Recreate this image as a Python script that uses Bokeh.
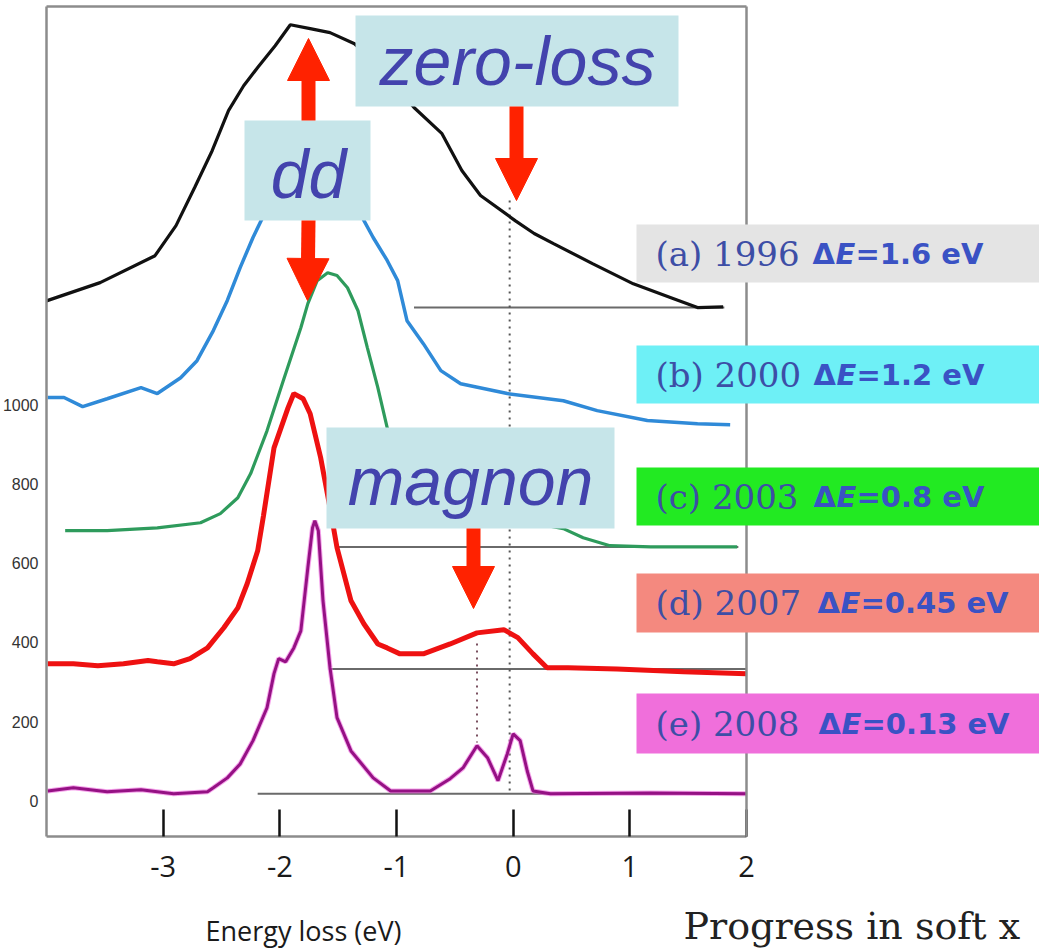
from bokeh.plotting import figure
from bokeh.models import Label, BoxAnnotation, Arrow, NormalHead, LinearAxis, FixedTicker, Range1d
from bokeh.embed import file_html
from bokeh.resources import INLINE

# ---------------- data (energy loss in eV, intensity in arb. units, offset spectra) -------------
a_x = [-4.0, -3.54, -3.07, -2.89, -2.73, -2.58, -2.44, -2.31, -2.19, -2.04, -1.91, -1.74, -1.57,
       -1.36, -1.18, -1.01, -0.85, -0.61, -0.44, -0.28, 0.02, 0.18, 0.35, 0.68, 1.03, 1.37, 1.58, 1.80]
a_y = [1262, 1308, 1376, 1452, 1548, 1641, 1742, 1805, 1851, 1906, 1959, 1949, 1939,
       1911, 1863, 1805, 1750, 1684, 1591, 1528, 1464, 1432, 1406, 1356, 1305, 1268, 1245, 1247]

b_x = [-3.99, -3.85, -3.69, -3.48, -3.19, -3.05, -2.85, -2.71, -2.57, -2.45, -2.34, -2.23, -2.14,
       -2.04, -1.91, -1.75, -1.57, -1.39, -1.28, -1.20, -1.08, -0.99, -0.91, -0.77, -0.62, -0.45,
       -0.05, 0.43, 0.72, 1.15, 1.58, 1.86]
b_y = [1018, 1018, 995, 1015, 1043, 1028, 1068, 1111, 1187, 1263, 1346, 1422, 1477,
       1566, 1629, 1654, 1629, 1553, 1465, 1422, 1364, 1313, 1212, 1154, 1086, 1053,
       1028, 1010, 985, 960, 952, 949]

c_x = [-3.84, -3.48, -3.05, -2.68, -2.51, -2.36, -2.25, -2.11, -1.97, -1.82, -1.76, -1.68, -1.59,
       -1.51, -1.42, -1.33, -1.25, -1.16, -1.08, -0.97, -0.79, -0.45, -0.02, 0.43, 0.60, 0.83, 1.18, 1.92]
c_y = [682, 682, 689, 702, 725, 765, 826, 934, 1061, 1194, 1255, 1313, 1333,
       1326, 1295, 1237, 1144, 1043, 942, 858, 795, 745, 712, 687, 664, 644, 641, 641]

d_x = [-3.99, -3.77, -3.56, -3.34, -3.13, -3.05, -2.91, -2.77, -2.62, -2.48, -2.36, -2.28, -2.19,
       -2.14, -2.05, -1.93, -1.88, -1.80, -1.74, -1.65, -1.57, -1.51, -1.39, -1.28, -1.16, -1.08,
       -0.97, -0.77, -0.54, -0.31, -0.08, 0.04, 0.17, 0.29, 0.47, 0.89, 1.46, 2.0]
d_y = [346, 346, 341, 346, 354, 351, 346, 359, 386, 437, 487, 548, 631,
       720, 891, 992, 1028, 1015, 977, 866, 740, 639, 505, 447, 396, 386,
       371, 371, 396, 424, 432, 412, 371, 336, 336, 333, 326, 321]

e_x = [-3.99, -3.77, -3.48, -3.19, -2.91, -2.62, -2.57, -2.45, -2.34, -2.23, -2.11, -2.05, -2.01,
       -1.95, -1.88, -1.82, -1.76, -1.72, -1.70, -1.67, -1.63, -1.57, -1.51, -1.39, -1.20, -1.05,
       -0.71, -0.54, -0.43, -0.31, -0.22, -0.13, -0.05, 0.00, 0.06, 0.12, 0.17, 0.32, 1.18, 2.0]
e_y = [25, 33, 23, 28, 18, 23, 33, 58, 93, 152, 235, 321, 359,
       351, 386, 429, 588, 689, 707, 682, 505, 336, 210, 126, 58, 25,
       25, 56, 83, 139, 109, 51, 119, 169, 152, 76, 25, 18, 20, 18]

# baselines (zero level of each offset spectrum) and their x extents
base_y = [1245, 641, 333, 18]
base_x0 = [-0.85, -1.52, -1.58, -2.19]
base_x1 = [1.81, 1.93, 2.0, 2.0]

x_ticks = [-3, -2, -1, 0, 1, 2]
y_ticks = [0, 200, 400, 600, 800, 1000]

labels_serif = ["(a) 1996", "(b) 2000", "(c) 2003", "(d) 2007", "(e) 2008"]
labels_de = ["=1.6 eV", "=1.2 eV", "=0.8 eV", "=0.45 eV", "=0.13 eV"]
box_colors = ["#e4e4e4", "#6ef0f6", "#22ea22", "#f4897f", "#f06fdb"]

# ---------------- geometry: the axes box sits inside a full-canvas frame ----------------
W, H = 1039, 949
FL, FR, FT, FB = 46, 746, 6, 836          # axes box in page pixels
XMIN, XMAX, YMIN, YMAX = -4.0, 2.0, -90.0, 2005.0
SX = (FR - FL) / (XMAX - XMIN)
SY = (FB - FT) / (YMAX - YMIN)


def dx(px):
    return XMIN + (px - FL) / SX


def dy(py):
    return YMIN + (FB - py) / SY


p = figure(width=W, height=H, title=None,
           x_range=Range1d(dx(0), dx(W)), y_range=Range1d(dy(H), dy(0)),
           output_backend="svg", toolbar_location=None,
           min_border_left=0, min_border_right=0, min_border_top=0, min_border_bottom=0)
p.grid.visible = False
p.outline_line_color = None
p.background_fill_color = "white"
p.border_fill_color = "white"

AX = "#8c8c8c"
xa = p.xaxis[0]
xa.fixed_location = YMIN
xa.bounds = (XMIN, XMAX)
xa.ticker = FixedTicker(ticks=x_ticks)
xa.major_label_overrides = {-3: "-3", -2: "-2", -1: "-1", 0: "0", 1: "1", 2: "2"}
xa.axis_line_color = AX
xa.axis_line_width = 2.5
xa.major_tick_in = 27
xa.major_tick_out = 0
xa.major_tick_line_color = "#111111"
xa.major_tick_line_width = 2.5
xa.minor_tick_line_color = None
xa.major_label_text_font = "Open Sans"
xa.major_label_text_font_size = "29px"
xa.major_label_text_color = "#1a1a1a"
xa.major_label_standoff = 19

ya = p.yaxis[0]
ya.fixed_location = XMIN
ya.bounds = (YMIN, YMAX)
ya.ticker = FixedTicker(ticks=y_ticks)
ya.axis_line_color = AX
ya.axis_line_width = 2.5
ya.major_tick_line_color = None
ya.minor_tick_line_color = None
ya.major_tick_in = 0
ya.major_tick_out = 0
ya.major_label_text_font = "Liberation Sans"
ya.major_label_text_font_size = "16px"
ya.major_label_text_color = "#333333"
ya.major_label_standoff = 8

for loc, fixed, bnds in (("above", YMAX, (XMIN, XMAX)), ("right", XMAX, (YMIN, YMAX))):
    ax = LinearAxis(ticker=FixedTicker(ticks=[]), axis_line_color=AX, axis_line_width=2.5,
                    major_tick_line_color=None, minor_tick_line_color=None,
                    major_tick_in=0, major_tick_out=0, minor_tick_in=0, minor_tick_out=0,
                    major_label_standoff=0, fixed_location=fixed, bounds=bnds)
    p.add_layout(ax, loc)

# baselines
p.segment(x0=base_x0, y0=base_y, x1=base_x1, y1=base_y, line_color="#6a6a6a", line_width=2)

# dotted guide lines (zero-loss and magnon positions)
p.segment(x0=[-0.03], y0=[dy(200)], x1=[-0.03], y1=[dy(795)], line_color="#555555",
          line_width=2, line_dash="2 5")
p.segment(x0=[-0.31], y0=[dy(643)], x1=[-0.31], y1=[dy(742)], line_color="#7a5060",
          line_width=2, line_dash="2 5")

# spectra
p.line(a_x, a_y, line_color="#111111", line_width=3.2)
p.line(b_x, b_y, line_color="#2f8ad8", line_width=3.5)
p.line(c_x, c_y, line_color="#2e9b5c", line_width=3.2)
p.line(d_x, d_y, line_color="#ee1111", line_width=5)
p.line(e_x, e_y, line_color="#ee66dd", line_width=5, line_alpha=0.6)
p.line(e_x, e_y, line_color="#951184", line_width=3)

# annotation boxes with italic labels
BOXC = "#c6e5e9"
TXTC = "#4343ad"
for (l, r, t, b), txt, cx, cy in [((355, 678, 15, 106), "zero-loss", 517, 60),
                                  ((244, 370, 120, 220), "dd", 308, 173),
                                  ((326, 614, 427, 528), "magnon", 470, 480)]:
    p.add_layout(BoxAnnotation(left=dx(l), right=dx(r), top=dy(t), bottom=dy(b),
                               fill_color=BOXC, fill_alpha=1, line_color=None))
    p.add_layout(Label(x=dx(cx), y=dy(cy), text=txt, text_font="Liberation Sans",
                       text_font_style="italic", text_font_size="68px", text_color=TXTC,
                       text_align="center", text_baseline="middle"))

# red arrows
RED = "#ff2200"
for (x0, y0, x1, y1) in [(308, 120, 308, 38), (308, 220, 307, 300), (516, 106, 516, 200),
                         (473, 528, 473, 608)]:
    p.add_layout(Arrow(end=NormalHead(size=42, fill_color=RED, line_color=RED, line_width=1),
                       x_start=dx(x0), y_start=dy(y0), x_end=dx(x1), y_end=dy(y1),
                       line_color=RED, line_width=14))

# right-hand labels
box_tb = [(224, 282), (345, 403), (467, 525), (573, 632), (693, 753)]
delta_px = [812, 813, 813, 817, 818]
for i in range(5):
    t, b = box_tb[i]
    cy = (t + b) / 2
    p.add_layout(BoxAnnotation(left=dx(636), right=dx(W + 20), top=dy(t), bottom=dy(b),
                               fill_color=box_colors[i], fill_alpha=1, line_color=None))
    p.add_layout(Label(x=dx(655), y=dy(cy), text=labels_serif[i], text_font="DejaVu Serif",
                       text_font_size="34px", text_color="#3d4ea6", text_baseline="middle"))
    xd = delta_px[i]
    p.add_layout(Label(x=dx(xd), y=dy(cy), text="Δ", text_font="DejaVu Sans", text_font_style="bold",
                       text_font_size="29px", text_color="#3a52c4", text_baseline="middle"))
    p.add_layout(Label(x=dx(xd + 23), y=dy(cy), text="E", text_font="DejaVu Sans",
                       text_font_style="bold italic", text_font_size="29px", text_color="#3a52c4",
                       text_baseline="middle"))
    p.add_layout(Label(x=dx(xd + 43), y=dy(cy), text=labels_de[i], text_font="DejaVu Sans",
                       text_font_style="bold", text_font_size="29px", text_color="#3a52c4",
                       text_baseline="middle"))

# x-axis title and caption text
p.add_layout(Label(x=dx(205), y=dy(930), text="Energy loss (eV)", text_font="Open Sans",
                   text_font_size="27px", text_color="#1a1a1a", text_baseline="middle"))
p.add_layout(Label(x=dx(683), y=dy(925), text="Progress in soft x",
                   text_font="DejaVu Serif", text_font_size="38px", text_color="#222222",
                   text_baseline="alphabetic"))

open("out.html", "w").write(file_html(p, INLINE))
